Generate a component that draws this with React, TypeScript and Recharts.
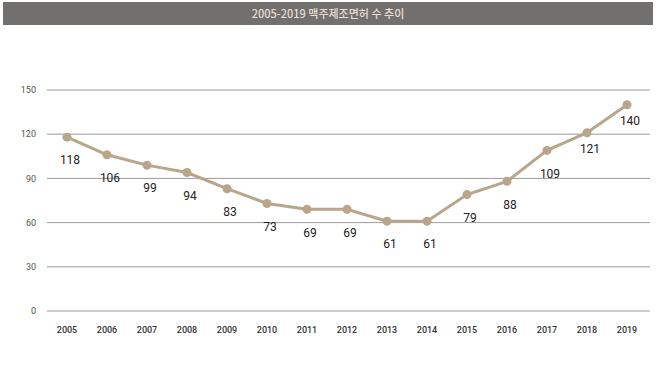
import React from 'react';
import { LineChart, Line, XAxis, YAxis, CartesianGrid, LabelList } from 'recharts';

const years = ['2005','2006','2007','2008','2009','2010','2011','2012','2013','2014','2015','2016','2017','2018','2019'];
const licenses = [118,106,99,94,83,73,69,69,61,61,79,88,109,121,140];
const yTicks = [0,30,60,90,120,150];
const title = '2005-2019 맥주제조면허 수 추이';

const data = years.map((y, i) => ({ year: y, value: licenses[i] }));

const renderLabel = (props: any) => {
  const { x, y, value, index } = props;
  const dy = index >= 13 ? 17 : 24;
  return (
    <text x={x + 3} y={y + dy} textAnchor="middle" dominantBaseline="middle"
      fontSize={12} fill="#222" fontFamily="Roboto, sans-serif">{value}</text>
  );
};

export default function App() {
  return (
    <div style={{ position: 'absolute', left: 0, top: 0, width: 660, height: 383, background: '#fff' }}>
      <div style={{ position: 'absolute', left: 3, top: 2, width: 650, height: 23, background: '#72706f',
        color: '#e8decf', fontFamily: '"Noto Sans CJK KR", sans-serif', fontSize: 11, fontWeight: 500,
        lineHeight: '23px', textAlign: 'center' }}>{title}</div>
      <LineChart width={660} height={383} data={data} margin={{ top: 90, right: 10, left: 0, bottom: 42 }}>
        <CartesianGrid vertical={false} stroke="#9a9a9a" strokeWidth={1} />
        <XAxis dataKey="year" axisLine={false} tickLine={false} tickSize={0} tickMargin={16} height={30}
          padding={{ left: 20, right: 23 }} interval={0}
          tick={{ fontSize: 9, fill: '#333', fontFamily: 'Roboto, sans-serif', fontWeight: 500 }} />
        <YAxis domain={[0,150]} ticks={yTicks} axisLine={false} tickLine={false} tickSize={0} tickMargin={11} width={47}
          tick={{ fontSize: 9, fill: '#555', fontFamily: 'Roboto, sans-serif' }} />
        <Line type="linear" dataKey="value" stroke="#b9a68a" strokeWidth={3} isAnimationActive={false}
          dot={{ r: 4.5, fill: '#b9a68a', stroke: '#b9a68a', strokeWidth: 0 }}>
          <LabelList dataKey="value" content={renderLabel} />
        </Line>
      </LineChart>
    </div>
  );
}
